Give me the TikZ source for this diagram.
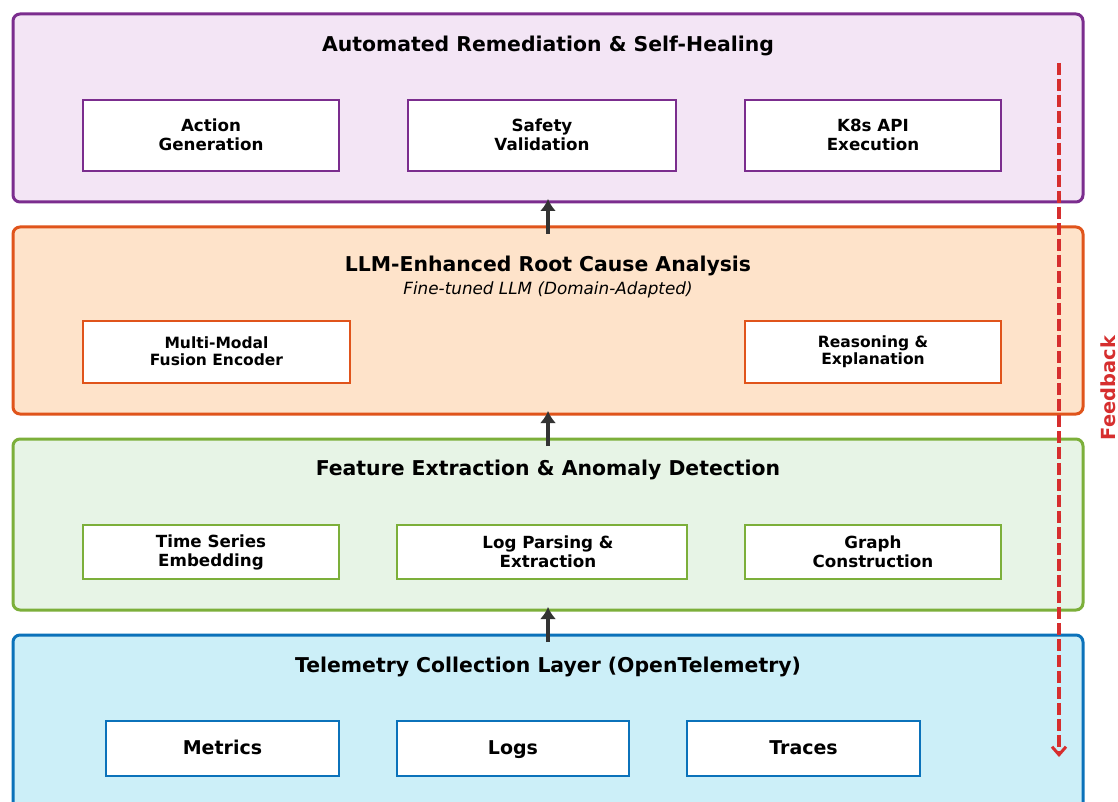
\documentclass[tikz,border=0pt]{standalone}
\usepackage{fontspec}
\setmainfont{DejaVu Sans}
\usetikzlibrary{arrows.meta}
\definecolor{purpB}{HTML}{7B2D8E}
\definecolor{purpF}{HTML}{F3E5F5}
\definecolor{orgB}{HTML}{E0541B}
\definecolor{orgF}{HTML}{FEE3CA}
\definecolor{grnB}{HTML}{7CAF3A}
\definecolor{grnF}{HTML}{E7F4E6}
\definecolor{bluB}{HTML}{0B72BA}
\definecolor{bluF}{HTML}{CCEFF8}
\definecolor{arrG}{HTML}{333333}
\definecolor{fbR}{HTML}{D62E2E}
\tikzset{
  layer/.style={draw=#1, line width=3pt, rounded corners=7pt},
  inner/.style={draw=#1, fill=white, line width=2.4pt, inner sep=0pt},
  ttl/.style={font=\fontsize{20.4}{24}\selectfont\bfseries},
  lab/.style={font=\fontsize{16.7}{19}\selectfont\bfseries, align=center},
  labsm/.style={font=\fontsize{15.5}{17.2}\selectfont\bfseries, align=center},
  labbig/.style={font=\fontsize{19}{22}\selectfont\bfseries, align=center, text height=14pt, text depth=4pt},
  uparrow/.style={draw=arrG, line width=4.5pt, -{Latex[length=12pt,width=16pt]}},
}
\begin{document}
\begin{tikzpicture}[x=1pt,y=-1pt]
\useasboundingbox (0,0) rectangle (1118,802);
\clip (0,0) rectangle (1118,802);
\fill[white] (0,0) rectangle (1118,802);

% layers
\draw[layer=purpB, fill=purpF] (13,14) rectangle (1083,202);
\draw[layer=orgB, fill=orgF] (13,227) rectangle (1083,414);
\draw[layer=grnB, fill=grnF] (13,439) rectangle (1083,610);
\draw[layer=bluB, fill=bluF] (13,635) rectangle (1083,820);

% anchors for layers
\coordinate (L1b) at (548,199);
\coordinate (L2t) at (548,234);
\coordinate (L2b) at (548,411);
\coordinate (L3t) at (548,446);
\coordinate (L3b) at (548,607);
\coordinate (L4t) at (548,642);

% titles
\node[ttl] (t1) at (548,46) {Automated Remediation \& Self-Healing};
\node[ttl] (t2) at (548,266) {LLM-Enhanced Root Cause Analysis};
\node[font=\fontsize{16.8}{20}\selectfont\itshape] (s2) at (548,289.5) {Fine-tuned LLM (Domain-Adapted)};
\node[ttl] (t3) at (548,470) {Feature Extraction \& Anomaly Detection};
\node[ttl] (t4) at (548,667) {Telemetry Collection Layer (OpenTelemetry)};

% layer 1 boxes
\draw[inner=purpB] (83,100) rectangle (339,171);
\node[lab] (a1) at (211,135) {Action\\Generation};
\draw[inner=purpB] (408,100) rectangle (676,171);
\node[lab] (a2) at (542,135) {Safety\\Validation};
\draw[inner=purpB] (745,100) rectangle (1001,171);
\node[lab] (a3) at (873,135) {K8s API\\Execution};

% layer 2 boxes
\draw[inner=orgB] (83,321) rectangle (350,383);
\node[labsm] (b1) at (216.5,351.5) {Multi-Modal\\Fusion Encoder};
\draw[inner=orgB] (745,321) rectangle (1001,383);
\node[labsm] (b2) at (873,352) {Reasoning \&\\Explanation};

% layer 3 boxes
\draw[inner=grnB] (83,525) rectangle (339,579);
\node[lab] (c1) at (211,552) {Time Series\\Embedding};
\draw[inner=grnB] (397,525) rectangle (687,579);
\node[lab] (c2) at (548,551.5) {Log Parsing \&\\Extraction};
\draw[inner=grnB] (745,525) rectangle (1001,579);
\node[lab] (c3) at (873,551.5) {Graph\\Construction};

% layer 4 boxes
\draw[inner=bluB] (106,721) rectangle (339,776);
\node[labbig] (d1) at (222.5,749.5) {Metrics};
\draw[inner=bluB] (397,721) rectangle (629,776);
\node[labbig] (d2) at (513,749.5) {Logs};
\draw[inner=bluB] (687,721) rectangle (920,776);
\node[labbig] (d3) at (803.5,749.5) {Traces};

% up arrows
\draw[uparrow] (L2t) -- (L1b);
\draw[uparrow] (L3t) -- (L2b);
\draw[uparrow] (L4t) -- (L3b);

% feedback
\coordinate (fbS) at (1059,63);
\coordinate (fbE) at (1059,757);
\draw[draw=fbR, line width=3.2pt, dash pattern=on 12pt off 4pt, -{Straight Barb[length=8pt,width=14pt,line width=3pt]}] (fbS) -- (fbE);
\node[rotate=90, text=fbR, font=\fontsize{19.4}{22}\selectfont\bfseries] (fbl) at (1108,388) {Feedback};
\end{tikzpicture}
\end{document}
